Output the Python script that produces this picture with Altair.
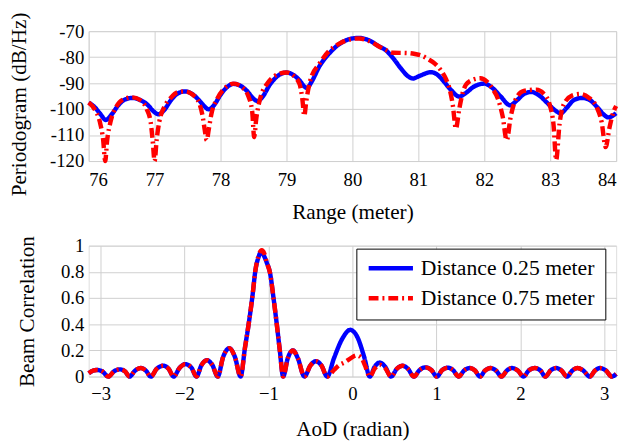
import altair as alt
import pandas as pd

S1 = "Distance 0.25 meter"
S2 = "Distance 0.75 meter"

# ---- top panel: periodogram vs range ----
range_blue = [76.00, 76.10, 76.18, 76.26, 76.35, 76.45, 76.55, 76.66, 76.78, 76.90,
              76.98, 77.06, 77.14, 77.25, 77.35, 77.46, 77.57, 77.67, 77.75, 77.82,
              77.90, 78.00, 78.10, 78.20, 78.30, 78.40, 78.50, 78.56, 78.63, 78.75,
              78.88, 79.00, 79.10, 79.20, 79.27, 79.31, 79.38, 79.50, 79.65, 79.80,
              80.00, 80.10, 80.25, 80.40, 80.50, 80.62, 80.74, 80.84, 80.92, 81.02,
              81.19, 81.30, 81.39, 81.50, 81.62, 81.72, 81.84, 82.00, 82.12, 82.25,
              82.39, 82.50, 82.60, 82.71, 82.82, 82.95, 83.05, 83.16, 83.25, 83.36,
              83.48, 83.60, 83.72, 83.82, 83.88, 83.95, 84.00]
pgram_blue = [-97.5, -99.5, -102.0, -104.2, -102.0, -98.5, -96.3, -95.7, -96.5, -98.5,
              -100.8, -102.0, -100.5, -96.5, -94.0, -93.2, -94.2, -96.5, -98.8, -100.1,
              -98.5, -94.5, -91.5, -90.3, -91.0, -93.0, -96.0, -96.9, -95.5, -90.5,
              -87.0, -85.9, -86.8, -89.0, -91.3, -91.9, -89.5, -83.5, -78.5, -75.0,
              -72.8, -72.6, -73.5, -75.8, -77.2, -80.5, -84.5, -87.3, -88.2, -87.2,
              -85.8, -87.0, -89.5, -92.8, -95.2, -93.8, -91.4, -90.2, -91.8, -95.2,
              -98.5, -96.5, -94.2, -93.4, -94.5, -97.5, -100.0, -101.6, -99.5, -96.5,
              -95.7, -96.5, -99.5, -102.3, -103.2, -102.5, -101.6]

range_red = [76.00, 76.10, 76.17, 76.22, 76.25, 76.28, 76.33, 76.42, 76.55, 76.66,
             76.78, 76.88, 76.94, 76.97, 77.00, 77.03, 77.07, 77.15, 77.25, 77.35,
             77.46, 77.58, 77.68, 77.73, 77.76, 77.79, 77.82, 77.86, 77.95, 78.05,
             78.20, 78.32, 78.42, 78.48, 78.51, 78.54, 78.60, 78.72, 78.88, 79.00,
             79.12, 79.20, 79.24, 79.27, 79.30, 79.36, 79.50, 79.65, 79.80, 80.00,
             80.10, 80.25, 80.47, 80.62, 80.82, 80.95, 81.04, 81.15, 81.25, 81.34,
             81.42, 81.47, 81.52, 81.57, 81.62, 81.68, 81.77, 81.94, 82.04, 82.12,
             82.22, 82.28, 82.34, 82.40, 82.48, 82.60, 82.79, 82.90, 83.00, 83.05,
             83.09, 83.14, 83.20, 83.33, 83.45, 83.58, 83.70, 83.78, 83.84, 83.90,
             83.96, 84.00]
pgram_red = [-97.5, -100.5, -105.0, -112.0, -120.0, -112.0, -105.0, -99.0, -96.0, -95.5,
             -96.5, -100.0, -105.0, -112.0, -120.0, -112.0, -105.0, -99.0, -95.5, -93.5,
             -93.2, -94.5, -98.0, -103.0, -108.0, -112.0, -108.0, -102.0, -96.0, -92.3,
             -90.2, -91.5, -95.0, -101.0, -110.8, -104.0, -96.0, -89.8, -86.5, -85.9,
             -87.5, -90.5, -96.0, -102.6, -97.0, -89.0, -82.5, -77.5, -74.8, -73.0,
             -72.8, -73.8, -76.8, -78.3, -78.4, -78.8, -79.3, -80.8, -82.5, -85.0,
             -88.5, -91.9, -98.0, -107.5, -100.0, -93.0, -89.4, -88.1, -89.4, -92.0,
             -97.0, -103.0, -112.0, -103.0, -96.0, -93.0, -92.5, -94.0, -99.0, -106.0,
             -119.6, -106.0, -98.5, -94.8, -94.2, -95.5, -99.0, -105.0, -114.6, -107.0,
             -101.0, -98.8]

# ---- bottom panel: beam correlation vs AoD ----
aod_blue = [-3.1416, -3.09, -3.044, -2.98, -2.909, -2.84, -2.772, -2.71, -2.655, -2.59,
            -2.519, -2.46, -2.402, -2.33, -2.254, -2.19, -2.13, -2.06, -1.993, -1.92,
            -1.857, -1.80, -1.732, -1.67, -1.604, -1.54, -1.467, -1.40, -1.332, -1.28,
            -1.234, -1.19, -1.156, -1.12, -1.09, -1.06, -1.02, -0.981, -0.94, -0.903,
            -0.865, -0.825, -0.77, -0.708, -0.65, -0.572, -0.50, -0.436, -0.37, -0.30,
            -0.22, -0.12, -0.027, 0.06, 0.14, 0.207, 0.265, 0.324, 0.39, 0.46,
            0.53, 0.596, 0.66, 0.733, 0.80, 0.869, 0.94, 1.006, 1.07, 1.141,
            1.20, 1.266, 1.33, 1.395, 1.46, 1.519, 1.58, 1.648, 1.71, 1.776,
            1.84, 1.90, 1.97, 2.037, 2.10, 2.173, 2.24, 2.298, 2.36, 2.426,
            2.49, 2.555, 2.62, 2.68, 2.75, 2.827, 2.89, 2.95, 3.02, 3.089,
            3.1416]
corr_blue = [0.025, 0.045, 0.050, 0.040, 0.0, 0.040, 0.055, 0.040, 0.0, 0.045,
             0.065, 0.045, 0.0, 0.060, 0.083, 0.060, 0.0, 0.065, 0.095, 0.070,
             0.0, 0.085, 0.125, 0.090, 0.0, 0.150, 0.217, 0.150, 0.0, 0.220,
             0.410, 0.620, 0.810, 0.910, 0.950, 0.930, 0.870, 0.790, 0.600, 0.410,
             0.200, 0.0, 0.140, 0.200, 0.140, 0.0, 0.085, 0.117, 0.085, 0.0,
             0.140, 0.290, 0.357, 0.300, 0.150, 0.0, 0.075, 0.107, 0.075, 0.0,
             0.060, 0.083, 0.060, 0.0, 0.050, 0.070, 0.050, 0.0, 0.050, 0.068,
             0.048, 0.0, 0.046, 0.065, 0.046, 0.0, 0.046, 0.065, 0.046, 0.0,
             0.046, 0.065, 0.046, 0.0, 0.046, 0.065, 0.046, 0.0, 0.046, 0.065,
             0.046, 0.0, 0.046, 0.065, 0.046, 0.0, 0.046, 0.065, 0.046, 0.0,
             0.020]

aod_red = [-3.1416, -3.09, -3.044, -2.98, -2.909, -2.84, -2.772, -2.71, -2.655, -2.59,
           -2.519, -2.46, -2.402, -2.33, -2.254, -2.19, -2.13, -2.06, -1.993, -1.92,
           -1.857, -1.80, -1.732, -1.67, -1.604, -1.54, -1.467, -1.40, -1.332, -1.28,
           -1.234, -1.19, -1.156, -1.12, -1.08, -1.05, -1.02, -0.981, -0.94, -0.903,
           -0.865, -0.825, -0.77, -0.708, -0.65, -0.572, -0.50, -0.436, -0.37, -0.30,
           -0.22, -0.16, -0.09, -0.027, 0.05, 0.11, 0.148, 0.207, 0.265, 0.324,
           0.39, 0.46,
           0.53, 0.596, 0.66, 0.733, 0.80, 0.869, 0.94, 1.006, 1.07, 1.141,
           1.20, 1.266, 1.33, 1.395, 1.46, 1.519, 1.58, 1.648, 1.71, 1.776,
           1.84, 1.90, 1.97, 2.037, 2.10, 2.173, 2.24, 2.298, 2.36, 2.426,
           2.49, 2.555, 2.62, 2.68, 2.75, 2.827, 2.89, 2.95, 3.02, 3.089,
           3.1416]
corr_red = [0.025, 0.045, 0.050, 0.040, 0.0, 0.040, 0.055, 0.040, 0.0, 0.045,
            0.065, 0.045, 0.0, 0.060, 0.083, 0.060, 0.0, 0.065, 0.095, 0.070,
            0.0, 0.085, 0.125, 0.090, 0.0, 0.150, 0.217, 0.150, 0.0, 0.220,
            0.410, 0.620, 0.810, 0.920, 0.965, 0.940, 0.870, 0.790, 0.600, 0.410,
            0.200, 0.0, 0.140, 0.200, 0.140, 0.0, 0.085, 0.117, 0.085, 0.0,
            0.050, 0.087, 0.110, 0.137, 0.162, 0.140, 0.087, 0.0, 0.060, 0.090,
            0.065, 0.0,
            0.060, 0.083, 0.060, 0.0, 0.050, 0.070, 0.050, 0.0, 0.050, 0.068,
            0.048, 0.0, 0.046, 0.065, 0.046, 0.0, 0.046, 0.065, 0.046, 0.0,
            0.046, 0.065, 0.046, 0.0, 0.046, 0.065, 0.046, 0.0, 0.046, 0.065,
            0.046, 0.0, 0.046, 0.065, 0.046, 0.0, 0.046, 0.065, 0.046, 0.0,
            0.020]

range_ticks = [76, 77, 78, 79, 80, 81, 82, 83, 84]
pgram_ticks = [-120, -110, -100, -90, -80, -70]
aod_ticks = [-3, -2, -1, 0, 1, 2, 3]
corr_ticks = [0, 0.2, 0.4, 0.6, 0.8, 1]

top_df = pd.concat([
    pd.DataFrame({"r": range_blue, "p": pgram_blue, "series": S1, "o": range(len(range_blue))}),
    pd.DataFrame({"r": range_red, "p": pgram_red, "series": S2, "o": range(len(range_red))}),
])
bot_df = pd.concat([
    pd.DataFrame({"a": aod_blue, "c": corr_blue, "series": S1, "o": range(len(aod_blue))}),
    pd.DataFrame({"a": aod_red, "c": corr_red, "series": S2, "o": range(len(aod_red))}),
])

FONT = "Liberation Serif"
color_scale = alt.Scale(domain=[S1, S2], range=["#0000ff", "#ff0000"])
dash_scale = alt.Scale(domain=[S1, S2], range=[[1, 0], [10, 4, 2, 4]])

axis_common = dict(
    grid=True, gridColor="#cfcfcf", gridWidth=1, ticks=False, domain=False,
    labelFont=FONT, titleFont=FONT, labelFontSize=19, titleFontSize=21.5,
    titleFontWeight="normal", labelColor="#000", titleColor="#000",
)

legend_opts = dict(title=None, orient="none", legendX=272, legendY=3,
                   fillColor="white", strokeColor="#000", padding=10,
                   rowPadding=8.4, clipHeight=20, labelFont=FONT,
                   labelFontSize=22, labelColor="#000", labelLimit=400,
                   symbolType="stroke", symbolStrokeWidth=4.5, symbolSize=2025,
                   labelOffset=5.5, cornerRadius=0)

top = alt.Chart(top_df).mark_line(interpolate="monotone", strokeWidth=4.5).encode(
    x=alt.X("r:Q", scale=alt.Scale(domain=[76, 84], nice=False),
            axis=alt.Axis(title="Range (meter)", values=range_ticks, labelPadding=10,
                          titlePadding=12, format="d", **axis_common)),
    y=alt.Y("p:Q", scale=alt.Scale(domain=[-120, -70], nice=False, clamp=True),
            axis=alt.Axis(title="Periodogram (dB/Hz)", values=pgram_ticks, labelPadding=5,
                          titlePadding=19, titleY=74,
                          labelExpr="datum.value < 0 ? '-' + abs(datum.value) : '' + datum.value",
                          **axis_common)),
    color=alt.Color("series:N", scale=color_scale, legend=None),
    strokeDash=alt.StrokeDash("series:N", scale=dash_scale, legend=None),
    order="o:Q",
).properties(width=536, height=132)

bottom = alt.Chart(bot_df).mark_line(interpolate="monotone", strokeWidth=4.5).encode(
    x=alt.X("a:Q", scale=alt.Scale(domain=[-3.14159, 3.14159], nice=False),
            axis=alt.Axis(title="AoD (radian)", values=aod_ticks, labelPadding=8,
                          titlePadding=16, **axis_common)),
    y=alt.Y("c:Q", scale=alt.Scale(domain=[0, 1], nice=False),
            axis=alt.Axis(title="Beam Correlation", values=corr_ticks, labelPadding=5,
                          titlePadding=22, labelExpr="'' + datum.value", **axis_common)),
    color=alt.Color("series:N", scale=color_scale, legend=alt.Legend(**legend_opts)),
    strokeDash=alt.StrokeDash("series:N", scale=dash_scale, legend=alt.Legend(**legend_opts)),
    order="o:Q",
).properties(width=536, height=133)

chart = alt.vconcat(top, bottom, spacing=12).resolve_scale(
    color="independent", strokeDash="independent"
).configure_view(
    stroke="#444", strokeWidth=1.2
).configure(
    background="white", padding={"left": 0, "top": 0, "right": 0, "bottom": 0}
)

chart.save("out.html", embed_options={"renderer": "svg", "actions": False})
